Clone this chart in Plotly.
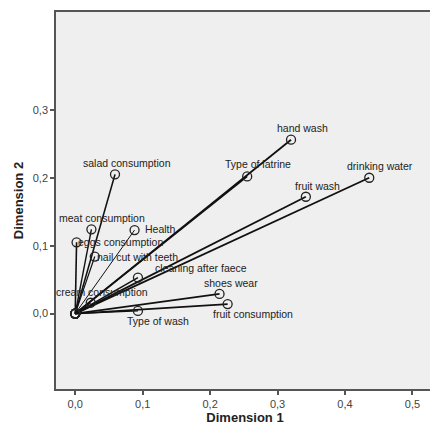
import plotly.graph_objects as go

# Data (component loadings)
variables = ["hand wash", "Type of latrine", "drinking water", "fruit wash",
             "salad consumption", "meat consumption", "Health", "eggs consumption",
             "nail cut with teeth", "cleaning after faece", "shoes wear",
             "fruit consumption", "Type of wash", "cream consumption"]
dim1 = [0.320, 0.255, 0.436, 0.342, 0.059, 0.024, 0.088, 0.002,
        0.029, 0.093, 0.214, 0.226, 0.093, 0.023]
dim2 = [0.256, 0.202, 0.200, 0.172, 0.205, 0.124, 0.123, 0.105,
        0.084, 0.053, 0.029, 0.014, 0.004, 0.016]
x_ticks = [0.0, 0.1, 0.2, 0.3, 0.4, 0.5]
y_ticks = [0.0, 0.1, 0.2, 0.3]

# label offsets in pixels (style only)
label_dx = [11, 11, 11, 12, 12, 11, 26, 44, 43, 63, 11, 25, 20, 11]
label_dy = [12, 12, 12, 11, 11, 11, 1, 0, 0, 10, 11, -10, -10, 11]
line_w = [1.8, 1.8, 1.8, 1.8, 1.6, 1.4, 1.0, 1.6, 1.2, 1.6, 1.6, 1.6, 1.4, 1.2]

fig = go.Figure()
for v, x, y, w in zip(variables, dim1, dim2, line_w):
    fig.add_trace(go.Scatter(x=[0, x], y=[0, y], mode="lines",
                             line=dict(color="#111111", width=w),
                             hoverinfo="skip", showlegend=False))
fig.add_trace(go.Scatter(x=dim1 + [0] * len(variables), y=dim2 + [0] * len(variables),
                         mode="markers",
                         marker=dict(symbol="circle-open", size=9, color="#222222",
                                     line=dict(color="#222222", width=1.3)),
                         showlegend=False, hoverinfo="skip"))

for v, x, y, dx, dy in zip(variables, dim1, dim2, label_dx, label_dy):
    fig.add_annotation(x=x, y=y, text=v, showarrow=False, xshift=dx, yshift=dy,
                       font=dict(family="Liberation Sans, Arial", size=10.5, color="#222222"))

axis_common = dict(showgrid=False, zeroline=False, showline=True, mirror=True,
                   linecolor="#555555", linewidth=1.5, ticks="outside", ticklen=4,
                   tickcolor="#555555", tickwidth=1.5,
                   tickfont=dict(family="Liberation Sans, Arial", size=11, color="#444444"))

fig.update_layout(
    width=436, height=432,
    margin=dict(l=56, r=0, t=12, b=43),
    paper_bgcolor="white", plot_bgcolor="#efefef",
    separators=", ",
    xaxis=dict(range=[-0.0285, 0.532], tickvals=x_ticks, tickformat=".1f",
               title=dict(text="<b>Dimension 1</b>", standoff=3,
                          font=dict(family="Liberation Sans, Arial", size=13, color="#222222")),
               **axis_common),
    yaxis=dict(range=[-0.111, 0.444], tickvals=y_ticks, tickformat=".1f",
               title=dict(text="<b>Dimension 2</b>", standoff=6,
                          font=dict(family="Liberation Sans, Arial", size=13, color="#222222")),
               **axis_common),
)

fig.write_html("out.html", config={"displayModeBar": False},
               post_script="document.body.style.margin='0';document.body.style.overflow='hidden';")
